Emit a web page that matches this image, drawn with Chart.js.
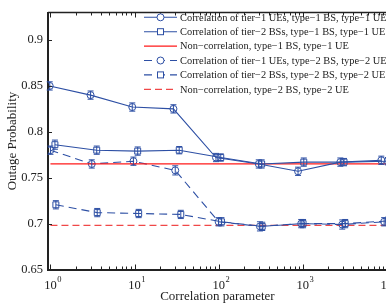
<!DOCTYPE html>
<html lang="en">
<head>
    <meta charset="UTF-8">
    <title>Outage Probability vs Correlation parameter</title>
    <script src="https://cdn.jsdelivr.net/npm/chart.js"></script>
    <style>
        html, body {
            margin: 0;
            padding: 0;
            background: #fff;
            overflow: hidden;
        }
        .chart-container {
            position: relative;
            width: 392px;
            height: 307px;
        }
    </style>
</head>
<body>
    <div class="chart-container">
        <canvas id="outage-chart"></canvas>
    </div>

    <script>
        // Data
        const xTier1UE_t1 = [0.98, 3.0, 9.4, 29, 93, 300, 880, 2800, 8600];
        const tier1UE_t1 = [0.850, 0.840, 0.827, 0.825, 0.772, 0.765, 0.757, 0.767, 0.769];
        const errTier1UE_t1 = [0.0045, 0.0045, 0.0045, 0.0045, 0.0045, 0.0045, 0.0045, 0.0045, 0.0045];

        const xTier2BS_t1 = [1.13, 3.55, 10.9, 34, 106, 325, 1030, 3100, 10300];
        const tier2BS_t1 = [0.786, 0.780, 0.779, 0.780, 0.772, 0.765, 0.767, 0.767, 0.768];
        const errTier2BS_t1 = [0.005, 0.0045, 0.0045, 0.004, 0.004, 0.0045, 0.0045, 0.004, 0.004];

        const xTier1UE_t2 = [1.0, 3.1, 9.7, 30.5, 100, 310, 960, 2950, 9300];
        const tier1UE_t2 = [0.780, 0.765, 0.768, 0.758, 0.702, 0.697, 0.700, 0.699, 0.702];
        const errTier1UE_t2 = [0.0045, 0.0045, 0.0045, 0.005, 0.0045, 0.005, 0.0045, 0.005, 0.0045];

        const xTier2BS_t2 = [1.16, 3.6, 11.2, 35.5, 108, 330, 1010, 3200, 10500];
        const tier2BS_t2 = [0.7205, 0.712, 0.711, 0.710, 0.702, 0.697, 0.700, 0.700, 0.703];
        const errTier2BS_t2 = [0.0045, 0.0045, 0.0045, 0.0045, 0.0045, 0.0045, 0.0045, 0.0045, 0.0045];

        const xNonCorr = [1, 10000];
        const nonCorr_t1 = [0.765, 0.765];
        const nonCorr_t2 = [0.698, 0.698];

        const xTicks = [1, 10, 100, 1000, 10000];
        const yTicks = [0.65, 0.7, 0.75, 0.8, 0.85, 0.9];

        const legendLabels = [
            "Correlation of tier\u22121 UEs, type\u22121 BS, type\u22121 UE",
            "Correlation of tier\u22122 BSs, type\u22121 BS, type\u22121 UE",
            "Non\u2212correlation, type\u22121 BS, type\u22121 UE",
            "Correlation of tier\u22121 UEs, type\u22122 BS, type\u22122 UE",
            "Correlation of tier\u22122 BSs, type\u22122 BS, type\u22122 UE",
            "Non\u2212correlation, type\u22122 BS, type\u22122 UE"
        ];

        const BLUE = "#2d4fa4";
        const RED = "#ff1a1a";
        const RED_LIGHT = "#f04848";
        const INK = "#222";
        const SERIF = "'Liberation Serif', 'Times New Roman', serif";

        function pts(xs, ys) {
            return xs.map((v, i) => ({ x: v, y: ys[i] }));
        }

        function blueSeries(label, xs, ys, errs, style, dashed) {
            return {
                label: label,
                data: pts(xs, ys),
                err: errs,
                borderColor: BLUE,
                borderWidth: 1.1,
                borderDash: dashed ? [8, 5] : [],
                pointStyle: style,
                pointRadius: style === "rect" ? 4.2 : 3.5,
                pointBorderWidth: 1,
                pointBorderColor: BLUE,
                pointBackgroundColor: "rgba(0,0,0,0)",
                tension: 0
            };
        }

        function redSeries(label, ys, dashed) {
            return {
                label: label,
                data: pts(xNonCorr, ys),
                borderColor: dashed ? RED_LIGHT : RED,
                borderWidth: 1.3,
                borderDash: dashed ? [7, 4] : [],
                pointRadius: 0,
                tension: 0
            };
        }

        const datasets = [
            blueSeries(legendLabels[0], xTier1UE_t1, tier1UE_t1, errTier1UE_t1, "circle", false),
            blueSeries(legendLabels[1], xTier2BS_t1, tier2BS_t1, errTier2BS_t1, "rect", false),
            redSeries(legendLabels[2], nonCorr_t1, false),
            blueSeries(legendLabels[3], xTier1UE_t2, tier1UE_t2, errTier1UE_t2, "circle", true),
            blueSeries(legendLabels[4], xTier2BS_t2, tier2BS_t2, errTier2BS_t2, "rect", true),
            redSeries(legendLabels[5], nonCorr_t2, true)
        ];

        // Error bars, inward ticks, top border, superscript labels and legend
        const overlay = {
            id: "overlay",
            afterDatasetsDraw(chart) {
                const { ctx, scales: { x, y } } = chart;
                ctx.save();
                ctx.setLineDash([]);
                ctx.lineWidth = 1;
                chart.data.datasets.forEach(ds => {
                    if (!ds.err) return;
                    ctx.strokeStyle = ds.borderColor;
                    ds.data.forEach((p, j) => {
                        const px = x.getPixelForValue(p.x);
                        const lo = y.getPixelForValue(p.y - ds.err[j]);
                        const hi = y.getPixelForValue(p.y + ds.err[j]);
                        ctx.beginPath();
                        ctx.moveTo(px, lo); ctx.lineTo(px, hi);
                        ctx.moveTo(px - 3, lo); ctx.lineTo(px + 3, lo);
                        ctx.moveTo(px - 3, hi); ctx.lineTo(px + 3, hi);
                        ctx.stroke();
                    });
                });
                ctx.restore();
            },
            afterDraw(chart) {
                const { ctx, chartArea: a, scales: { x, y } } = chart;
                ctx.save();
                ctx.setLineDash([]);
                ctx.strokeStyle = INK;

                // top border
                ctx.lineWidth = 1.5;
                ctx.beginPath();
                ctx.moveTo(a.left, a.top);
                ctx.lineTo(a.right, a.top);
                ctx.stroke();

                // inward ticks on x (major + minor), bottom and top
                ctx.lineWidth = 1;
                ctx.beginPath();
                for (let d = 0; d < xTicks.length; d++) {
                    const base = xTicks[d];
                    for (let m = 1; m <= 9; m++) {
                        const v = base * m;
                        if (v < x.min || v > x.max) continue;
                        const px = Math.round(x.getPixelForValue(v)) + 0.5;
                        const len = m === 1 ? 5 : 3;
                        ctx.moveTo(px, a.bottom); ctx.lineTo(px, a.bottom - len);
                        ctx.moveTo(px, a.top); ctx.lineTo(px, a.top + len);
                    }
                }
                // inward ticks on y
                yTicks.forEach(v => {
                    const py = Math.round(y.getPixelForValue(v)) + 0.5;
                    ctx.moveTo(a.left, py); ctx.lineTo(a.left + 4, py);
                });
                ctx.stroke();

                // x tick labels as 10^n
                ctx.fillStyle = INK;
                ctx.textBaseline = "alphabetic";
                xTicks.forEach(v => {
                    const px = x.getPixelForValue(v);
                    ctx.font = "12.5px " + SERIF;
                    ctx.textAlign = "center";
                    ctx.fillText("10", px, a.bottom + 19.5);
                    const w = ctx.measureText("10").width;
                    ctx.font = "8.5px " + SERIF;
                    ctx.textAlign = "left";
                    ctx.fillText(String(Math.round(Math.log10(v))), px + w / 2 + 0.5, a.bottom + 12.5);
                });

                // legend
                const lx0 = 144, lx1 = 177, tx = 180, ly0 = 17.3, dy = 14.4;
                ctx.font = "10.4px " + SERIF;
                ctx.textAlign = "left";
                ctx.textBaseline = "middle";
                chart.data.datasets.forEach((ds, i) => {
                    const ly = ly0 + i * dy;
                    ctx.strokeStyle = ds.borderColor;
                    ctx.lineWidth = ds.borderWidth;
                    ctx.setLineDash(ds.borderDash || []);
                    ctx.beginPath();
                    ctx.moveTo(lx0, ly); ctx.lineTo(lx1, ly);
                    ctx.stroke();
                    ctx.setLineDash([]);
                    if (ds.pointRadius > 0) {
                        ctx.lineWidth = 1;
                        const mx = (lx0 + lx1) / 2;
                        ctx.fillStyle = "#fff";
                        if (ds.pointStyle === "rect") {
                            ctx.fillRect(mx - 3, ly - 3, 6, 6);
                            ctx.strokeRect(mx - 3, ly - 3, 6, 6);
                        } else {
                            ctx.beginPath();
                            ctx.arc(mx, ly, 3.5, 0, Math.PI * 2);
                            ctx.fill();
                            ctx.stroke();
                        }
                    }
                    ctx.fillStyle = INK;
                    ctx.fillText(ds.label, tx, ly + 0.5);
                });
                ctx.restore();
            }
        };

        const chart = new Chart(document.getElementById("outage-chart").getContext("2d"), {
            type: "line",
            data: { datasets: datasets },
            options: {
                responsive: true,
                maintainAspectRatio: false,
                animation: false,
                devicePixelRatio: 1,
                layout: { padding: { top: 8, right: 3.5, left: 0, bottom: 0 } },
                plugins: {
                    legend: { display: false },
                    tooltip: { enabled: false }
                },
                scales: {
                    x: {
                        type: "logarithmic",
                        min: 0.935,
                        max: 10000,
                        afterBuildTicks: s => { s.ticks = xTicks.map(v => ({ value: v })); },
                        afterFit: s => { s.height = 37.5; },
                        grid: { display: false, drawTicks: false },
                        border: { display: true, color: INK, width: 2 },
                        ticks: { display: false },
                        title: {
                            display: true,
                            text: "Correlation parameter",
                            color: INK,
                            font: { family: SERIF, size: 13 },
                            padding: { top: 0, bottom: 3 }
                        }
                    },
                    y: {
                        type: "linear",
                        min: 0.65,
                        max: 0.93,
                        afterBuildTicks: s => { s.ticks = yTicks.map(v => ({ value: v })); },
                        afterFit: s => { s.width = 48; },
                        grid: { display: false, drawTicks: false },
                        border: { display: true, color: INK, width: 2 },
                        ticks: {
                            color: INK,
                            padding: 5,
                            font: { family: SERIF, size: 12.5 },
                            callback: v => String(Math.round(v * 100) / 100)
                        },
                        title: {
                            display: true,
                            text: "Outage Probability",
                            color: INK,
                            font: { family: SERIF, size: 13 },
                            padding: { top: 5, bottom: 0 }
                        }
                    }
                }
            },
            plugins: [overlay]
        });
    </script>
</body>
</html>
